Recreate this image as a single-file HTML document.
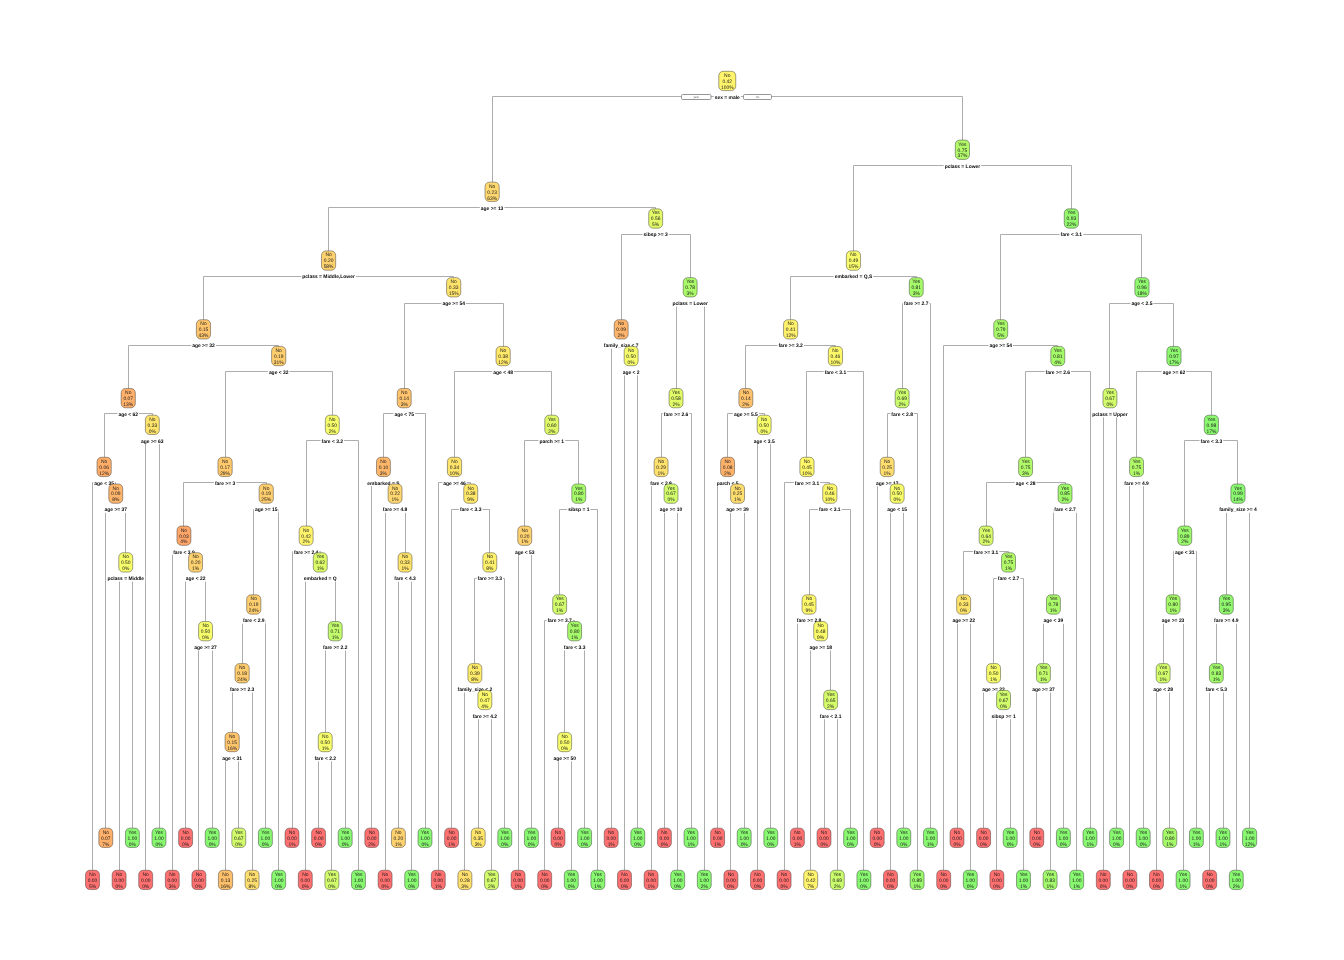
<!DOCTYPE html>
<html lang="en"><head><meta charset="utf-8"><title>Decision tree</title>
<style>html,body{margin:0;padding:0;background:#fff}body{width:1344px;height:960px;overflow:hidden}svg{display:block}text{text-rendering:geometricPrecision}</style>
</head><body>
<svg width="1344" height="960" viewBox="0 0 1344 960">
<rect width="1344" height="960" fill="#fff"/>
<path d="M119.5 870.25V578.5H132.5V828.15M105.5 828.15V509.5H125.5V552.76M92.5 870.25V482.5H115.5V483.98M145.5 870.25V440.5H159.5V828.15M104.5 457.27V413.5H152.5V415.2M198.5 870.25V647.5H212.5V828.15M185.5 828.15V578.5H205.5V621.54M172.5 870.25V551.5H195.5V552.76M225.5 870.25V757.5H238.5V828.15M232.5 732.39V689.5H252.5V870.25M242.5 663.61V620.5H265.5V828.15M253.5 594.83V509.5H278.5V870.25M183.5 526.05V482.5H266.5V483.98M318.5 828.15V757.5H331.5V870.25M325.5 732.39V647.5H345.5V828.15M305.5 870.25V578.5H335.5V621.54M292.5 828.15V551.5H320.5V552.76M306.5 526.05V440.5H358.5V870.25M225.5 457.27V371.5H332.5V415.2M128.5 388.49V345.5H278.5V346.42M398.5 828.15V578.5H411.5V870.25M385.5 870.25V509.5H405.5V552.76M371.5 828.15V482.5H395.5V483.98M383.5 457.27V413.5H425.5V828.15M478.5 828.15V715.5H491.5V870.25M464.5 870.25V689.5H484.5V690.32M474.5 663.61V578.5H504.5V828.15M451.5 828.15V509.5H489.5V552.76M438.5 870.25V482.5H470.5V483.98M518.5 870.25V551.5H531.5V828.15M558.5 828.15V757.5H571.5V870.25M564.5 732.39V647.5H584.5V828.15M544.5 870.25V620.5H574.5V621.54M559.5 594.83V509.5H597.5V870.25M524.5 526.05V440.5H578.5V483.98M454.5 457.27V371.5H551.5V415.2M404.5 388.49V303.5H503.5V346.42M203.5 319.71V276.5H453.5V277.64M624.5 870.25V371.5H637.5V828.15M611.5 828.15V345.5H631.5V346.42M664.5 828.15V509.5H677.5V870.25M651.5 870.25V482.5H671.5V483.98M661.5 457.27V413.5H691.5V828.15M676.5 388.49V303.5H704.5V870.25M621.5 319.71V234.5H690.5V277.64M328.5 250.93V207.5H655.5V208.86M730.5 870.25V509.5H744.5V828.15M717.5 828.15V482.5H737.5V483.98M757.5 870.25V440.5H770.5V828.15M727.5 457.27V413.5H764.5V415.2M824.5 828.15V715.5H837.5V870.25M810.5 870.25V647.5H830.5V690.32M797.5 828.15V620.5H820.5V621.54M809.5 594.83V509.5H850.5V828.15M784.5 870.25V482.5H829.5V483.98M806.5 457.27V371.5H863.5V870.25M745.5 388.49V345.5H835.5V346.42M890.5 870.25V509.5H903.5V828.15M877.5 828.15V482.5H897.5V483.98M887.5 457.27V413.5H917.5V870.25M902.5 388.49V303.5H930.5V828.15M790.5 319.71V276.5H916.5V277.64M957.5 828.15V620.5H970.5V870.25M996.5 870.25V715.5H1010.5V828.15M983.5 828.15V689.5H1003.5V690.32M993.5 663.61V578.5H1023.5V870.25M963.5 594.83V551.5H1008.5V552.76M1036.5 828.15V689.5H1050.5V870.25M1043.5 663.61V620.5H1063.5V828.15M1053.5 594.83V509.5H1076.5V870.25M986.5 526.05V482.5H1065.5V483.98M1025.5 457.27V371.5H1090.5V828.15M943.5 870.25V345.5H1057.5V346.42M1103.5 870.25V413.5H1116.5V828.15M1129.5 870.25V482.5H1143.5V828.15M1156.5 870.25V689.5H1169.5V828.15M1163.5 663.61V620.5H1183.5V870.25M1173.5 594.83V551.5H1196.5V828.15M1209.5 870.25V689.5H1223.5V828.15M1216.5 663.61V620.5H1236.5V870.25M1226.5 594.83V509.5H1249.5V828.15M1184.5 526.05V440.5H1237.5V483.98M1136.5 457.27V371.5H1211.5V415.2M1109.5 388.49V303.5H1173.5V346.42M1000.5 319.71V234.5H1141.5V277.64M853.5 250.93V165.5H1071.5V208.86M492.5 182.15V96.5H962.5V140.08" fill="none" stroke="#adadad" stroke-width="1"/>
<g font-family="Liberation Sans, Arial, sans-serif" font-weight="bold" font-size="4.95" text-anchor="middle" fill="#000">
<rect x="106.39" y="574.86" width="38.73" height="6.8" fill="#fff"/>
<text x="125.75" y="580.26">pclass = Middle</text>
<rect x="103.49" y="506.08" width="24.57" height="6.8" fill="#fff"/>
<text x="115.78" y="511.48">age &gt;= 37</text>
<rect x="93.3" y="479.37" width="21.68" height="6.8" fill="#fff"/>
<text x="104.14" y="484.77">age &lt; 35</text>
<rect x="140.07" y="437.3" width="24.57" height="6.8" fill="#fff"/>
<text x="152.35" y="442.7">age &gt;= 63</text>
<rect x="117.41" y="410.59" width="21.68" height="6.8" fill="#fff"/>
<text x="128.24" y="415.99">age &lt; 62</text>
<rect x="193.27" y="643.64" width="24.57" height="6.8" fill="#fff"/>
<text x="205.55" y="649.04">age &gt;= 27</text>
<rect x="184.74" y="574.86" width="21.68" height="6.8" fill="#fff"/>
<text x="195.58" y="580.26">age &lt; 22</text>
<rect x="172.14" y="548.15" width="23.6" height="6.8" fill="#fff"/>
<text x="183.94" y="553.55">fare &lt; 3.9</text>
<rect x="221.31" y="754.49" width="21.68" height="6.8" fill="#fff"/>
<text x="232.15" y="759.89">age &lt; 31</text>
<rect x="228.88" y="685.71" width="26.49" height="6.8" fill="#fff"/>
<text x="242.12" y="691.11">fare &gt;= 2.3</text>
<rect x="241.96" y="616.93" width="23.6" height="6.8" fill="#fff"/>
<text x="253.76" y="622.33">fare &lt; 2.9</text>
<rect x="253.95" y="506.08" width="24.57" height="6.8" fill="#fff"/>
<text x="266.23" y="511.48">age &gt;= 15</text>
<rect x="213.9" y="479.37" width="22.36" height="6.8" fill="#fff"/>
<text x="225.08" y="484.77">fare &gt;= 3</text>
<rect x="313.45" y="754.49" width="23.6" height="6.8" fill="#fff"/>
<text x="325.25" y="759.89">fare &lt; 2.2</text>
<rect x="321.98" y="643.64" width="26.49" height="6.8" fill="#fff"/>
<text x="335.23" y="649.04">fare &gt;= 2.2</text>
<rect x="302.82" y="574.86" width="34.88" height="6.8" fill="#fff"/>
<text x="320.26" y="580.26">embarked = Q</text>
<rect x="292.88" y="548.15" width="26.49" height="6.8" fill="#fff"/>
<text x="306.13" y="553.55">fare &gt;= 2.4</text>
<rect x="320.51" y="437.3" width="23.6" height="6.8" fill="#fff"/>
<text x="332.32" y="442.7">fare &lt; 3.2</text>
<rect x="267.86" y="368.52" width="21.68" height="6.8" fill="#fff"/>
<text x="278.7" y="373.92">age &lt; 32</text>
<rect x="191.19" y="341.81" width="24.57" height="6.8" fill="#fff"/>
<text x="203.47" y="347.21">age &gt;= 32</text>
<rect x="393.25" y="574.86" width="23.6" height="6.8" fill="#fff"/>
<text x="405.05" y="580.26">fare &lt; 4.3</text>
<rect x="381.83" y="506.08" width="26.49" height="6.8" fill="#fff"/>
<text x="395.08" y="511.48">fare &gt;= 4.8</text>
<rect x="366.27" y="479.37" width="34.33" height="6.8" fill="#fff"/>
<text x="383.44" y="484.77">embarked = S</text>
<rect x="393.38" y="410.59" width="21.68" height="6.8" fill="#fff"/>
<text x="404.22" y="415.99">age &lt; 75</text>
<rect x="471.6" y="712.42" width="26.49" height="6.8" fill="#fff"/>
<text x="484.85" y="717.82">fare &gt;= 4.2</text>
<rect x="456.47" y="685.71" width="36.81" height="6.8" fill="#fff"/>
<text x="474.88" y="691.11">family_size &lt; 2</text>
<rect x="476.59" y="574.86" width="26.49" height="6.8" fill="#fff"/>
<text x="489.84" y="580.26">fare &gt;= 3.3</text>
<rect x="458.92" y="506.08" width="23.6" height="6.8" fill="#fff"/>
<text x="470.72" y="511.48">fare &lt; 3.3</text>
<rect x="442.23" y="479.37" width="24.57" height="6.8" fill="#fff"/>
<text x="454.51" y="484.77">age &gt;= 46</text>
<rect x="513.91" y="548.15" width="21.68" height="6.8" fill="#fff"/>
<text x="524.75" y="553.55">age &lt; 53</text>
<rect x="552.37" y="754.49" width="24.57" height="6.8" fill="#fff"/>
<text x="564.65" y="759.89">age &gt;= 50</text>
<rect x="562.82" y="643.64" width="23.6" height="6.8" fill="#fff"/>
<text x="574.62" y="649.04">fare &lt; 3.3</text>
<rect x="546.42" y="616.93" width="26.49" height="6.8" fill="#fff"/>
<text x="559.66" y="622.33">fare &gt;= 3.7</text>
<rect x="567.12" y="506.08" width="23.32" height="6.8" fill="#fff"/>
<text x="578.78" y="511.48">sibsp = 1</text>
<rect x="538.38" y="437.3" width="26.76" height="6.8" fill="#fff"/>
<text x="551.77" y="442.7">parch &gt;= 1</text>
<rect x="492.3" y="368.52" width="21.68" height="6.8" fill="#fff"/>
<text x="503.14" y="373.92">age &lt; 48</text>
<rect x="441.39" y="299.74" width="24.57" height="6.8" fill="#fff"/>
<text x="453.68" y="305.14">age &gt;= 54</text>
<rect x="301.23" y="273.03" width="54.68" height="6.8" fill="#fff"/>
<text x="328.58" y="278.43">pclass = Middle,Lower</text>
<rect x="621.69" y="368.52" width="18.92" height="6.8" fill="#fff"/>
<text x="631.15" y="373.92">age &lt; 2</text>
<rect x="602.77" y="341.81" width="36.81" height="6.8" fill="#fff"/>
<text x="621.18" y="347.21">family_size &lt; 7</text>
<rect x="658.77" y="506.08" width="24.57" height="6.8" fill="#fff"/>
<text x="671.05" y="511.48">age &gt;= 10</text>
<rect x="649.27" y="479.37" width="23.6" height="6.8" fill="#fff"/>
<text x="661.08" y="484.77">fare &lt; 2.8</text>
<rect x="662.79" y="410.59" width="26.49" height="6.8" fill="#fff"/>
<text x="676.04" y="415.99">fare &gt;= 2.6</text>
<rect x="671.35" y="299.74" width="37.63" height="6.8" fill="#fff"/>
<text x="690.17" y="305.14">pclass = Lower</text>
<rect x="642.56" y="230.96" width="26.22" height="6.8" fill="#fff"/>
<text x="655.67" y="236.36">sibsp &gt;= 3</text>
<rect x="479.84" y="204.25" width="24.57" height="6.8" fill="#fff"/>
<text x="492.12" y="209.65">age &gt;= 13</text>
<rect x="725.27" y="506.08" width="24.57" height="6.8" fill="#fff"/>
<text x="737.55" y="511.48">age &gt;= 39</text>
<rect x="715.64" y="479.37" width="23.87" height="6.8" fill="#fff"/>
<text x="727.58" y="484.77">parch &lt; 5</text>
<rect x="752.62" y="437.3" width="23.05" height="6.8" fill="#fff"/>
<text x="764.15" y="442.7">age &lt; 3.5</text>
<rect x="732.89" y="410.59" width="25.94" height="6.8" fill="#fff"/>
<text x="745.86" y="415.99">age &gt;= 5.5</text>
<rect x="818.85" y="712.42" width="23.6" height="6.8" fill="#fff"/>
<text x="830.65" y="717.82">fare &lt; 2.1</text>
<rect x="808.39" y="643.64" width="24.57" height="6.8" fill="#fff"/>
<text x="820.68" y="649.04">age &gt;= 18</text>
<rect x="795.79" y="616.93" width="26.49" height="6.8" fill="#fff"/>
<text x="809.04" y="622.33">fare &gt;= 2.8</text>
<rect x="818.02" y="506.08" width="23.6" height="6.8" fill="#fff"/>
<text x="829.82" y="511.48">fare &lt; 3.1</text>
<rect x="793.71" y="479.37" width="26.49" height="6.8" fill="#fff"/>
<text x="806.96" y="484.77">fare &gt;= 3.1</text>
<rect x="823.63" y="368.52" width="23.6" height="6.8" fill="#fff"/>
<text x="835.43" y="373.92">fare &lt; 3.1</text>
<rect x="777.4" y="341.81" width="26.49" height="6.8" fill="#fff"/>
<text x="790.65" y="347.21">fare &gt;= 3.2</text>
<rect x="886.31" y="506.08" width="21.68" height="6.8" fill="#fff"/>
<text x="897.15" y="511.48">age &lt; 15</text>
<rect x="874.89" y="479.37" width="24.57" height="6.8" fill="#fff"/>
<text x="887.18" y="484.77">age &gt;= 17</text>
<rect x="890.34" y="410.59" width="23.6" height="6.8" fill="#fff"/>
<text x="902.14" y="415.99">fare &lt; 2.8</text>
<rect x="903.02" y="299.74" width="26.49" height="6.8" fill="#fff"/>
<text x="916.27" y="305.14">fare &gt;= 2.7</text>
<rect x="833.68" y="273.03" width="39.56" height="6.8" fill="#fff"/>
<text x="853.46" y="278.43">embarked = Q,S</text>
<rect x="951.37" y="616.93" width="24.57" height="6.8" fill="#fff"/>
<text x="963.65" y="622.33">age &gt;= 22</text>
<rect x="990.44" y="712.42" width="26.22" height="6.8" fill="#fff"/>
<text x="1003.55" y="717.82">sibsp &gt;= 1</text>
<rect x="981.29" y="685.71" width="24.57" height="6.8" fill="#fff"/>
<text x="993.58" y="691.11">age &gt;= 22</text>
<rect x="996.74" y="574.86" width="23.6" height="6.8" fill="#fff"/>
<text x="1008.54" y="580.26">fare &lt; 2.7</text>
<rect x="972.85" y="548.15" width="26.49" height="6.8" fill="#fff"/>
<text x="986.09" y="553.55">fare &gt;= 3.1</text>
<rect x="1031.17" y="685.71" width="24.57" height="6.8" fill="#fff"/>
<text x="1043.45" y="691.11">age &gt;= 37</text>
<rect x="1042.59" y="616.93" width="21.68" height="6.8" fill="#fff"/>
<text x="1053.43" y="622.33">age &lt; 39</text>
<rect x="1053.26" y="506.08" width="23.6" height="6.8" fill="#fff"/>
<text x="1065.06" y="511.48">fare &lt; 2.7</text>
<rect x="1014.74" y="479.37" width="21.68" height="6.8" fill="#fff"/>
<text x="1025.58" y="484.77">age &lt; 28</text>
<rect x="1044.54" y="368.52" width="26.49" height="6.8" fill="#fff"/>
<text x="1057.79" y="373.92">fare &gt;= 2.6</text>
<rect x="988.46" y="341.81" width="24.57" height="6.8" fill="#fff"/>
<text x="1000.74" y="347.21">age &gt;= 54</text>
<rect x="1091.27" y="410.59" width="37.35" height="6.8" fill="#fff"/>
<text x="1109.95" y="415.99">pclass = Upper</text>
<rect x="1123.3" y="479.37" width="26.49" height="6.8" fill="#fff"/>
<text x="1136.55" y="484.77">fare &gt;= 4.9</text>
<rect x="1152.31" y="685.71" width="21.68" height="6.8" fill="#fff"/>
<text x="1163.15" y="691.11">age &lt; 28</text>
<rect x="1160.84" y="616.93" width="24.57" height="6.8" fill="#fff"/>
<text x="1173.12" y="622.33">age &gt;= 23</text>
<rect x="1173.92" y="548.15" width="21.68" height="6.8" fill="#fff"/>
<text x="1184.76" y="553.55">age &lt; 31</text>
<rect x="1204.55" y="685.71" width="23.6" height="6.8" fill="#fff"/>
<text x="1216.35" y="691.11">fare &lt; 5.3</text>
<rect x="1213.08" y="616.93" width="26.49" height="6.8" fill="#fff"/>
<text x="1226.32" y="622.33">fare &gt;= 4.9</text>
<rect x="1218.11" y="506.08" width="39.7" height="6.8" fill="#fff"/>
<text x="1237.96" y="511.48">family_size &gt;= 4</text>
<rect x="1199.56" y="437.3" width="23.6" height="6.8" fill="#fff"/>
<text x="1211.36" y="442.7">fare &lt; 3.3</text>
<rect x="1161.67" y="368.52" width="24.57" height="6.8" fill="#fff"/>
<text x="1173.96" y="373.92">age &gt;= 62</text>
<rect x="1130.43" y="299.74" width="23.05" height="6.8" fill="#fff"/>
<text x="1141.95" y="305.14">age &lt; 2.5</text>
<rect x="1059.55" y="230.96" width="23.6" height="6.8" fill="#fff"/>
<text x="1071.35" y="236.36">fare &lt; 3.1</text>
<rect x="943.59" y="162.18" width="37.63" height="6.8" fill="#fff"/>
<text x="962.4" y="167.58">pclass = Lower</text>
<rect x="713.67" y="93.4" width="27.18" height="6.8" fill="#fff"/>
<text x="727.26" y="98.8">sex = male</text>
</g>
<g font-family="Liberation Sans, Arial, sans-serif" font-size="3.3" text-anchor="middle" fill="#666">
<rect x="681.5" y="94.5" width="29.5" height="5" rx="1.2" fill="#fff" stroke="#969696" stroke-width="1"/><text x="696" y="98.1">yes</text>
<rect x="743.5" y="94.5" width="28" height="5" rx="1.2" fill="#fff" stroke="#969696" stroke-width="1"/><text x="757.5" y="98.1">no</text>
</g>
<g font-family="Liberation Sans, Arial, sans-serif" font-size="4.95" text-anchor="middle" fill="#1a1a1a" stroke="none">
<g stroke="#2a2a2a" stroke-opacity="0.55" stroke-width="0.8">
<rect x="85.53" y="870.25" width="13.93" height="19.3" rx="4.4" fill="#ff7070"/>
<rect x="98.83" y="828.15" width="13.93" height="19.3" rx="4.4" fill="#ffb06a"/>
<rect x="112.13" y="870.25" width="13.93" height="19.3" rx="4.4" fill="#ff7070"/>
<rect x="125.43" y="828.15" width="13.93" height="19.3" rx="4.4" fill="#88f870"/>
<rect x="118.78" y="552.76" width="13.93" height="19.3" rx="4.4" fill="#f6fc6a"/>
<rect x="108.81" y="483.98" width="13.93" height="19.3" rx="4.4" fill="#ffb56b"/>
<rect x="97.04" y="457.27" width="14.2" height="19.3" rx="4.4" fill="#ffae6a"/>
<rect x="138.73" y="870.25" width="13.93" height="19.3" rx="4.4" fill="#ff7070"/>
<rect x="152.03" y="828.15" width="13.93" height="19.3" rx="4.4" fill="#88f870"/>
<rect x="145.38" y="415.2" width="13.93" height="19.3" rx="4.4" fill="#ffe46c"/>
<rect x="121.14" y="388.49" width="14.2" height="19.3" rx="4.4" fill="#ffb06a"/>
<rect x="165.33" y="870.25" width="13.93" height="19.3" rx="4.4" fill="#ff7070"/>
<rect x="178.63" y="828.15" width="13.93" height="19.3" rx="4.4" fill="#ff7070"/>
<rect x="191.93" y="870.25" width="13.93" height="19.3" rx="4.4" fill="#ff7070"/>
<rect x="205.23" y="828.15" width="13.93" height="19.3" rx="4.4" fill="#88f870"/>
<rect x="198.58" y="621.54" width="13.93" height="19.3" rx="4.4" fill="#f6fc6a"/>
<rect x="188.61" y="552.76" width="13.93" height="19.3" rx="4.4" fill="#ffd270"/>
<rect x="176.97" y="526.05" width="13.93" height="19.3" rx="4.4" fill="#ffa66a"/>
<rect x="218.4" y="870.25" width="14.2" height="19.3" rx="4.4" fill="#ffc06c"/>
<rect x="231.83" y="828.15" width="13.93" height="19.3" rx="4.4" fill="#d2fc6c"/>
<rect x="225.05" y="732.39" width="14.2" height="19.3" rx="4.4" fill="#ffc56d"/>
<rect x="245.13" y="870.25" width="13.93" height="19.3" rx="4.4" fill="#ffde70"/>
<rect x="235.02" y="663.61" width="14.2" height="19.3" rx="4.4" fill="#ffcd6f"/>
<rect x="258.43" y="828.15" width="13.93" height="19.3" rx="4.4" fill="#88f870"/>
<rect x="246.66" y="594.83" width="14.2" height="19.3" rx="4.4" fill="#ffcf6f"/>
<rect x="271.73" y="870.25" width="13.93" height="19.3" rx="4.4" fill="#88f870"/>
<rect x="259.13" y="483.98" width="14.2" height="19.3" rx="4.4" fill="#ffcf6f"/>
<rect x="217.98" y="457.27" width="14.2" height="19.3" rx="4.4" fill="#ffca6e"/>
<rect x="285.03" y="828.15" width="13.93" height="19.3" rx="4.4" fill="#ff7070"/>
<rect x="298.33" y="870.25" width="13.93" height="19.3" rx="4.4" fill="#ff7070"/>
<rect x="311.63" y="828.15" width="13.93" height="19.3" rx="4.4" fill="#ff7070"/>
<rect x="324.93" y="870.25" width="13.93" height="19.3" rx="4.4" fill="#d2fc6c"/>
<rect x="318.28" y="732.39" width="13.93" height="19.3" rx="4.4" fill="#f6fc6a"/>
<rect x="338.23" y="828.15" width="13.93" height="19.3" rx="4.4" fill="#88f870"/>
<rect x="328.26" y="621.54" width="13.93" height="19.3" rx="4.4" fill="#c2fb6b"/>
<rect x="313.3" y="552.76" width="13.93" height="19.3" rx="4.4" fill="#dbfb69"/>
<rect x="299.16" y="526.05" width="13.93" height="19.3" rx="4.4" fill="#fff46c"/>
<rect x="351.53" y="870.25" width="13.93" height="19.3" rx="4.4" fill="#88f870"/>
<rect x="325.35" y="415.2" width="13.93" height="19.3" rx="4.4" fill="#f6fc6a"/>
<rect x="271.6" y="346.42" width="14.2" height="19.3" rx="4.4" fill="#ffcf6f"/>
<rect x="196.37" y="319.71" width="14.2" height="19.3" rx="4.4" fill="#ffc56d"/>
<rect x="364.83" y="828.15" width="13.93" height="19.3" rx="4.4" fill="#ff7070"/>
<rect x="378.13" y="870.25" width="13.93" height="19.3" rx="4.4" fill="#ff7070"/>
<rect x="391.43" y="828.15" width="13.93" height="19.3" rx="4.4" fill="#ffd270"/>
<rect x="404.73" y="870.25" width="13.93" height="19.3" rx="4.4" fill="#88f870"/>
<rect x="398.08" y="552.76" width="13.93" height="19.3" rx="4.4" fill="#ffe46c"/>
<rect x="388.11" y="483.98" width="13.93" height="19.3" rx="4.4" fill="#ffd770"/>
<rect x="376.47" y="457.27" width="13.93" height="19.3" rx="4.4" fill="#ffb86b"/>
<rect x="418.03" y="828.15" width="13.93" height="19.3" rx="4.4" fill="#88f870"/>
<rect x="397.25" y="388.49" width="13.93" height="19.3" rx="4.4" fill="#ffc36d"/>
<rect x="431.33" y="870.25" width="13.93" height="19.3" rx="4.4" fill="#ff7070"/>
<rect x="444.63" y="828.15" width="13.93" height="19.3" rx="4.4" fill="#ff7070"/>
<rect x="457.93" y="870.25" width="13.93" height="19.3" rx="4.4" fill="#ffe06e"/>
<rect x="471.23" y="828.15" width="13.93" height="19.3" rx="4.4" fill="#ffe66b"/>
<rect x="484.53" y="870.25" width="13.93" height="19.3" rx="4.4" fill="#d2fc6c"/>
<rect x="477.88" y="690.32" width="13.93" height="19.3" rx="4.4" fill="#fbf96a"/>
<rect x="467.91" y="663.61" width="13.93" height="19.3" rx="4.4" fill="#ffeb6a"/>
<rect x="497.83" y="828.15" width="13.93" height="19.3" rx="4.4" fill="#88f870"/>
<rect x="482.87" y="552.76" width="13.93" height="19.3" rx="4.4" fill="#fff16c"/>
<rect x="463.75" y="483.98" width="13.93" height="19.3" rx="4.4" fill="#ffe86a"/>
<rect x="447.41" y="457.27" width="14.2" height="19.3" rx="4.4" fill="#ffe56c"/>
<rect x="511.13" y="870.25" width="13.93" height="19.3" rx="4.4" fill="#ff7070"/>
<rect x="524.43" y="828.15" width="13.93" height="19.3" rx="4.4" fill="#88f870"/>
<rect x="517.78" y="526.05" width="13.93" height="19.3" rx="4.4" fill="#ffd270"/>
<rect x="537.73" y="870.25" width="13.93" height="19.3" rx="4.4" fill="#ff7070"/>
<rect x="551.03" y="828.15" width="13.93" height="19.3" rx="4.4" fill="#ff7070"/>
<rect x="564.33" y="870.25" width="13.93" height="19.3" rx="4.4" fill="#88f870"/>
<rect x="557.68" y="732.39" width="13.93" height="19.3" rx="4.4" fill="#f6fc6a"/>
<rect x="577.63" y="828.15" width="13.93" height="19.3" rx="4.4" fill="#88f870"/>
<rect x="567.66" y="621.54" width="13.93" height="19.3" rx="4.4" fill="#a6fa6a"/>
<rect x="552.7" y="594.83" width="13.93" height="19.3" rx="4.4" fill="#d2fc6c"/>
<rect x="590.93" y="870.25" width="13.93" height="19.3" rx="4.4" fill="#88f870"/>
<rect x="571.81" y="483.98" width="13.93" height="19.3" rx="4.4" fill="#a6fa6a"/>
<rect x="544.8" y="415.2" width="13.93" height="19.3" rx="4.4" fill="#defa68"/>
<rect x="496.04" y="346.42" width="14.2" height="19.3" rx="4.4" fill="#ffe86a"/>
<rect x="446.58" y="277.64" width="14.2" height="19.3" rx="4.4" fill="#ffe46c"/>
<rect x="321.47" y="250.93" width="14.2" height="19.3" rx="4.4" fill="#ffd270"/>
<rect x="604.23" y="828.15" width="13.93" height="19.3" rx="4.4" fill="#ff7070"/>
<rect x="617.53" y="870.25" width="13.93" height="19.3" rx="4.4" fill="#ff7070"/>
<rect x="630.83" y="828.15" width="13.93" height="19.3" rx="4.4" fill="#88f870"/>
<rect x="624.18" y="346.42" width="13.93" height="19.3" rx="4.4" fill="#f6fc6a"/>
<rect x="614.21" y="319.71" width="13.93" height="19.3" rx="4.4" fill="#ffb56b"/>
<rect x="644.13" y="870.25" width="13.93" height="19.3" rx="4.4" fill="#ff7070"/>
<rect x="657.43" y="828.15" width="13.93" height="19.3" rx="4.4" fill="#ff7070"/>
<rect x="670.73" y="870.25" width="13.93" height="19.3" rx="4.4" fill="#88f870"/>
<rect x="664.08" y="483.98" width="13.93" height="19.3" rx="4.4" fill="#d2fc6c"/>
<rect x="654.11" y="457.27" width="13.93" height="19.3" rx="4.4" fill="#ffe16e"/>
<rect x="684.03" y="828.15" width="13.93" height="19.3" rx="4.4" fill="#88f870"/>
<rect x="669.07" y="388.49" width="13.93" height="19.3" rx="4.4" fill="#e1fa68"/>
<rect x="697.33" y="870.25" width="13.93" height="19.3" rx="4.4" fill="#88f870"/>
<rect x="683.2" y="277.64" width="13.93" height="19.3" rx="4.4" fill="#abfa6a"/>
<rect x="648.71" y="208.86" width="13.93" height="19.3" rx="4.4" fill="#e4fa68"/>
<rect x="485.02" y="182.15" width="14.2" height="19.3" rx="4.4" fill="#ffd970"/>
<rect x="710.63" y="828.15" width="13.93" height="19.3" rx="4.4" fill="#ff7070"/>
<rect x="723.93" y="870.25" width="13.93" height="19.3" rx="4.4" fill="#ff7070"/>
<rect x="737.23" y="828.15" width="13.93" height="19.3" rx="4.4" fill="#88f870"/>
<rect x="730.58" y="483.98" width="13.93" height="19.3" rx="4.4" fill="#ffde70"/>
<rect x="720.61" y="457.27" width="13.93" height="19.3" rx="4.4" fill="#ffb36a"/>
<rect x="750.53" y="870.25" width="13.93" height="19.3" rx="4.4" fill="#ff7070"/>
<rect x="763.83" y="828.15" width="13.93" height="19.3" rx="4.4" fill="#88f870"/>
<rect x="757.18" y="415.2" width="13.93" height="19.3" rx="4.4" fill="#f6fc6a"/>
<rect x="738.9" y="388.49" width="13.93" height="19.3" rx="4.4" fill="#ffc36d"/>
<rect x="777.13" y="870.25" width="13.93" height="19.3" rx="4.4" fill="#ff7070"/>
<rect x="790.43" y="828.15" width="13.93" height="19.3" rx="4.4" fill="#ff7070"/>
<rect x="803.73" y="870.25" width="13.93" height="19.3" rx="4.4" fill="#fff46c"/>
<rect x="817.03" y="828.15" width="13.93" height="19.3" rx="4.4" fill="#ff7070"/>
<rect x="830.33" y="870.25" width="13.93" height="19.3" rx="4.4" fill="#cafc6c"/>
<rect x="823.68" y="690.32" width="13.93" height="19.3" rx="4.4" fill="#d5fb6b"/>
<rect x="813.71" y="621.54" width="13.93" height="19.3" rx="4.4" fill="#fafa6a"/>
<rect x="802.07" y="594.83" width="13.93" height="19.3" rx="4.4" fill="#fef76a"/>
<rect x="843.63" y="828.15" width="13.93" height="19.3" rx="4.4" fill="#88f870"/>
<rect x="822.72" y="483.98" width="14.2" height="19.3" rx="4.4" fill="#fdf86a"/>
<rect x="799.86" y="457.27" width="14.2" height="19.3" rx="4.4" fill="#fef76a"/>
<rect x="856.93" y="870.25" width="13.93" height="19.3" rx="4.4" fill="#88f870"/>
<rect x="828.33" y="346.42" width="14.2" height="19.3" rx="4.4" fill="#fdf86a"/>
<rect x="783.54" y="319.71" width="14.2" height="19.3" rx="4.4" fill="#fff16c"/>
<rect x="870.23" y="828.15" width="13.93" height="19.3" rx="4.4" fill="#ff7070"/>
<rect x="883.53" y="870.25" width="13.93" height="19.3" rx="4.4" fill="#ff7070"/>
<rect x="896.83" y="828.15" width="13.93" height="19.3" rx="4.4" fill="#88f870"/>
<rect x="890.18" y="483.98" width="13.93" height="19.3" rx="4.4" fill="#f6fc6a"/>
<rect x="880.21" y="457.27" width="13.93" height="19.3" rx="4.4" fill="#ffde70"/>
<rect x="910.13" y="870.25" width="13.93" height="19.3" rx="4.4" fill="#9af86c"/>
<rect x="895.17" y="388.49" width="13.93" height="19.3" rx="4.4" fill="#cafc6c"/>
<rect x="923.43" y="828.15" width="13.93" height="19.3" rx="4.4" fill="#88f870"/>
<rect x="909.3" y="277.64" width="13.93" height="19.3" rx="4.4" fill="#a5fa6a"/>
<rect x="846.35" y="250.93" width="14.2" height="19.3" rx="4.4" fill="#f8fb6a"/>
<rect x="936.73" y="870.25" width="13.93" height="19.3" rx="4.4" fill="#ff7070"/>
<rect x="950.03" y="828.15" width="13.93" height="19.3" rx="4.4" fill="#ff7070"/>
<rect x="963.33" y="870.25" width="13.93" height="19.3" rx="4.4" fill="#88f870"/>
<rect x="956.68" y="594.83" width="13.93" height="19.3" rx="4.4" fill="#ffe46c"/>
<rect x="976.63" y="828.15" width="13.93" height="19.3" rx="4.4" fill="#ff7070"/>
<rect x="989.93" y="870.25" width="13.93" height="19.3" rx="4.4" fill="#ff7070"/>
<rect x="1003.23" y="828.15" width="13.93" height="19.3" rx="4.4" fill="#88f870"/>
<rect x="996.58" y="690.32" width="13.93" height="19.3" rx="4.4" fill="#d2fc6c"/>
<rect x="986.61" y="663.61" width="13.93" height="19.3" rx="4.4" fill="#f6fc6a"/>
<rect x="1016.53" y="870.25" width="13.93" height="19.3" rx="4.4" fill="#88f870"/>
<rect x="1001.57" y="552.76" width="13.93" height="19.3" rx="4.4" fill="#b2fa6a"/>
<rect x="979.13" y="526.05" width="13.93" height="19.3" rx="4.4" fill="#d7fb6a"/>
<rect x="1029.83" y="828.15" width="13.93" height="19.3" rx="4.4" fill="#ff7070"/>
<rect x="1043.13" y="870.25" width="13.93" height="19.3" rx="4.4" fill="#a2f96b"/>
<rect x="1036.48" y="663.61" width="13.93" height="19.3" rx="4.4" fill="#c2fb6b"/>
<rect x="1056.43" y="828.15" width="13.93" height="19.3" rx="4.4" fill="#88f870"/>
<rect x="1046.46" y="594.83" width="13.93" height="19.3" rx="4.4" fill="#abfa6a"/>
<rect x="1069.73" y="870.25" width="13.93" height="19.3" rx="4.4" fill="#88f870"/>
<rect x="1058.1" y="483.98" width="13.93" height="19.3" rx="4.4" fill="#9ff96b"/>
<rect x="1018.61" y="457.27" width="13.93" height="19.3" rx="4.4" fill="#b2fa6a"/>
<rect x="1083.03" y="828.15" width="13.93" height="19.3" rx="4.4" fill="#88f870"/>
<rect x="1050.82" y="346.42" width="13.93" height="19.3" rx="4.4" fill="#a5fa6a"/>
<rect x="993.78" y="319.71" width="13.93" height="19.3" rx="4.4" fill="#a8fa6a"/>
<rect x="1096.33" y="870.25" width="13.93" height="19.3" rx="4.4" fill="#ff7070"/>
<rect x="1109.63" y="828.15" width="13.93" height="19.3" rx="4.4" fill="#88f870"/>
<rect x="1102.98" y="388.49" width="13.93" height="19.3" rx="4.4" fill="#d2fc6c"/>
<rect x="1122.93" y="870.25" width="13.93" height="19.3" rx="4.4" fill="#ff7070"/>
<rect x="1136.23" y="828.15" width="13.93" height="19.3" rx="4.4" fill="#88f870"/>
<rect x="1129.58" y="457.27" width="13.93" height="19.3" rx="4.4" fill="#b2fa6a"/>
<rect x="1149.53" y="870.25" width="13.93" height="19.3" rx="4.4" fill="#ff7070"/>
<rect x="1162.83" y="828.15" width="13.93" height="19.3" rx="4.4" fill="#a6fa6a"/>
<rect x="1156.18" y="663.61" width="13.93" height="19.3" rx="4.4" fill="#d2fc6c"/>
<rect x="1176.13" y="870.25" width="13.93" height="19.3" rx="4.4" fill="#88f870"/>
<rect x="1166.16" y="594.83" width="13.93" height="19.3" rx="4.4" fill="#a6fa6a"/>
<rect x="1189.43" y="828.15" width="13.93" height="19.3" rx="4.4" fill="#88f870"/>
<rect x="1177.8" y="526.05" width="13.93" height="19.3" rx="4.4" fill="#9af86c"/>
<rect x="1202.73" y="870.25" width="13.93" height="19.3" rx="4.4" fill="#ff7070"/>
<rect x="1216.03" y="828.15" width="13.93" height="19.3" rx="4.4" fill="#88f870"/>
<rect x="1209.38" y="663.61" width="13.93" height="19.3" rx="4.4" fill="#a2f96b"/>
<rect x="1229.33" y="870.25" width="13.93" height="19.3" rx="4.4" fill="#88f870"/>
<rect x="1219.36" y="594.83" width="13.93" height="19.3" rx="4.4" fill="#90f86e"/>
<rect x="1242.5" y="828.15" width="14.2" height="19.3" rx="4.4" fill="#88f870"/>
<rect x="1230.86" y="483.98" width="14.2" height="19.3" rx="4.4" fill="#8af870"/>
<rect x="1204.26" y="415.2" width="14.2" height="19.3" rx="4.4" fill="#8bf86f"/>
<rect x="1166.85" y="346.42" width="14.2" height="19.3" rx="4.4" fill="#8df86f"/>
<rect x="1134.85" y="277.64" width="14.2" height="19.3" rx="4.4" fill="#8ff86f"/>
<rect x="1064.25" y="208.86" width="14.2" height="19.3" rx="4.4" fill="#93f86d"/>
<rect x="955.3" y="140.08" width="14.2" height="19.3" rx="4.4" fill="#b2fa6a"/>
<rect x="718.78" y="71.3" width="16.96" height="19.3" rx="4.4" fill="#fff46c"/>
</g>
<text x="92.5" y="875.8">No</text><text x="92.5" y="881.7">0.00</text><text x="92.5" y="887.6">5%</text>
<text x="105.8" y="833.7">No</text><text x="105.8" y="839.6">0.07</text><text x="105.8" y="845.5">7%</text>
<text x="119.1" y="875.8">No</text><text x="119.1" y="881.7">0.00</text><text x="119.1" y="887.6">0%</text>
<text x="132.4" y="833.7">Yes</text><text x="132.4" y="839.6">1.00</text><text x="132.4" y="845.5">0%</text>
<text x="125.75" y="558.31">No</text><text x="125.75" y="564.21">0.50</text><text x="125.75" y="570.11">0%</text>
<text x="115.78" y="489.53">No</text><text x="115.78" y="495.43">0.09</text><text x="115.78" y="501.33">8%</text>
<text x="104.14" y="462.82">No</text><text x="104.14" y="468.72">0.06</text><text x="104.14" y="474.62">12%</text>
<text x="145.7" y="875.8">No</text><text x="145.7" y="881.7">0.00</text><text x="145.7" y="887.6">0%</text>
<text x="159" y="833.7">Yes</text><text x="159" y="839.6">1.00</text><text x="159" y="845.5">0%</text>
<text x="152.35" y="420.75">No</text><text x="152.35" y="426.65">0.33</text><text x="152.35" y="432.55">0%</text>
<text x="128.24" y="394.04">No</text><text x="128.24" y="399.94">0.07</text><text x="128.24" y="405.84">13%</text>
<text x="172.3" y="875.8">No</text><text x="172.3" y="881.7">0.00</text><text x="172.3" y="887.6">3%</text>
<text x="185.6" y="833.7">No</text><text x="185.6" y="839.6">0.00</text><text x="185.6" y="845.5">0%</text>
<text x="198.9" y="875.8">No</text><text x="198.9" y="881.7">0.00</text><text x="198.9" y="887.6">0%</text>
<text x="212.2" y="833.7">Yes</text><text x="212.2" y="839.6">1.00</text><text x="212.2" y="845.5">0%</text>
<text x="205.55" y="627.09">No</text><text x="205.55" y="632.99">0.50</text><text x="205.55" y="638.89">0%</text>
<text x="195.58" y="558.31">No</text><text x="195.58" y="564.21">0.20</text><text x="195.58" y="570.11">1%</text>
<text x="183.94" y="531.6">No</text><text x="183.94" y="537.5">0.03</text><text x="183.94" y="543.4">4%</text>
<text x="225.5" y="875.8">No</text><text x="225.5" y="881.7">0.13</text><text x="225.5" y="887.6">16%</text>
<text x="238.8" y="833.7">Yes</text><text x="238.8" y="839.6">0.67</text><text x="238.8" y="845.5">0%</text>
<text x="232.15" y="737.94">No</text><text x="232.15" y="743.84">0.15</text><text x="232.15" y="749.74">16%</text>
<text x="252.1" y="875.8">No</text><text x="252.1" y="881.7">0.25</text><text x="252.1" y="887.6">8%</text>
<text x="242.12" y="669.16">No</text><text x="242.12" y="675.06">0.18</text><text x="242.12" y="680.96">24%</text>
<text x="265.4" y="833.7">Yes</text><text x="265.4" y="839.6">1.00</text><text x="265.4" y="845.5">0%</text>
<text x="253.76" y="600.38">No</text><text x="253.76" y="606.28">0.19</text><text x="253.76" y="612.18">24%</text>
<text x="278.7" y="875.8">Yes</text><text x="278.7" y="881.7">1.00</text><text x="278.7" y="887.6">0%</text>
<text x="266.23" y="489.53">No</text><text x="266.23" y="495.43">0.19</text><text x="266.23" y="501.33">25%</text>
<text x="225.08" y="462.82">No</text><text x="225.08" y="468.72">0.17</text><text x="225.08" y="474.62">29%</text>
<text x="292" y="833.7">No</text><text x="292" y="839.6">0.00</text><text x="292" y="845.5">1%</text>
<text x="305.3" y="875.8">No</text><text x="305.3" y="881.7">0.00</text><text x="305.3" y="887.6">0%</text>
<text x="318.6" y="833.7">No</text><text x="318.6" y="839.6">0.00</text><text x="318.6" y="845.5">0%</text>
<text x="331.9" y="875.8">Yes</text><text x="331.9" y="881.7">0.67</text><text x="331.9" y="887.6">0%</text>
<text x="325.25" y="737.94">No</text><text x="325.25" y="743.84">0.50</text><text x="325.25" y="749.74">1%</text>
<text x="345.2" y="833.7">Yes</text><text x="345.2" y="839.6">1.00</text><text x="345.2" y="845.5">0%</text>
<text x="335.23" y="627.09">Yes</text><text x="335.23" y="632.99">0.71</text><text x="335.23" y="638.89">1%</text>
<text x="320.26" y="558.31">Yes</text><text x="320.26" y="564.21">0.62</text><text x="320.26" y="570.11">1%</text>
<text x="306.13" y="531.6">No</text><text x="306.13" y="537.5">0.42</text><text x="306.13" y="543.4">2%</text>
<text x="358.5" y="875.8">Yes</text><text x="358.5" y="881.7">1.00</text><text x="358.5" y="887.6">0%</text>
<text x="332.32" y="420.75">No</text><text x="332.32" y="426.65">0.50</text><text x="332.32" y="432.55">2%</text>
<text x="278.7" y="351.97">No</text><text x="278.7" y="357.87">0.19</text><text x="278.7" y="363.77">31%</text>
<text x="203.47" y="325.26">No</text><text x="203.47" y="331.16">0.15</text><text x="203.47" y="337.06">43%</text>
<text x="371.8" y="833.7">No</text><text x="371.8" y="839.6">0.00</text><text x="371.8" y="845.5">2%</text>
<text x="385.1" y="875.8">No</text><text x="385.1" y="881.7">0.00</text><text x="385.1" y="887.6">0%</text>
<text x="398.4" y="833.7">No</text><text x="398.4" y="839.6">0.20</text><text x="398.4" y="845.5">1%</text>
<text x="411.7" y="875.8">Yes</text><text x="411.7" y="881.7">1.00</text><text x="411.7" y="887.6">0%</text>
<text x="405.05" y="558.31">No</text><text x="405.05" y="564.21">0.33</text><text x="405.05" y="570.11">1%</text>
<text x="395.08" y="489.53">No</text><text x="395.08" y="495.43">0.22</text><text x="395.08" y="501.33">1%</text>
<text x="383.44" y="462.82">No</text><text x="383.44" y="468.72">0.10</text><text x="383.44" y="474.62">3%</text>
<text x="425" y="833.7">Yes</text><text x="425" y="839.6">1.00</text><text x="425" y="845.5">0%</text>
<text x="404.22" y="394.04">No</text><text x="404.22" y="399.94">0.14</text><text x="404.22" y="405.84">3%</text>
<text x="438.3" y="875.8">No</text><text x="438.3" y="881.7">0.00</text><text x="438.3" y="887.6">1%</text>
<text x="451.6" y="833.7">No</text><text x="451.6" y="839.6">0.00</text><text x="451.6" y="845.5">1%</text>
<text x="464.9" y="875.8">No</text><text x="464.9" y="881.7">0.28</text><text x="464.9" y="887.6">3%</text>
<text x="478.2" y="833.7">No</text><text x="478.2" y="839.6">0.35</text><text x="478.2" y="845.5">3%</text>
<text x="491.5" y="875.8">Yes</text><text x="491.5" y="881.7">0.67</text><text x="491.5" y="887.6">2%</text>
<text x="484.85" y="695.87">No</text><text x="484.85" y="701.77">0.47</text><text x="484.85" y="707.67">4%</text>
<text x="474.88" y="669.16">No</text><text x="474.88" y="675.06">0.39</text><text x="474.88" y="680.96">8%</text>
<text x="504.8" y="833.7">Yes</text><text x="504.8" y="839.6">1.00</text><text x="504.8" y="845.5">0%</text>
<text x="489.84" y="558.31">No</text><text x="489.84" y="564.21">0.41</text><text x="489.84" y="570.11">8%</text>
<text x="470.72" y="489.53">No</text><text x="470.72" y="495.43">0.38</text><text x="470.72" y="501.33">9%</text>
<text x="454.51" y="462.82">No</text><text x="454.51" y="468.72">0.34</text><text x="454.51" y="474.62">10%</text>
<text x="518.1" y="875.8">No</text><text x="518.1" y="881.7">0.00</text><text x="518.1" y="887.6">1%</text>
<text x="531.4" y="833.7">Yes</text><text x="531.4" y="839.6">1.00</text><text x="531.4" y="845.5">0%</text>
<text x="524.75" y="531.6">No</text><text x="524.75" y="537.5">0.20</text><text x="524.75" y="543.4">1%</text>
<text x="544.7" y="875.8">No</text><text x="544.7" y="881.7">0.00</text><text x="544.7" y="887.6">0%</text>
<text x="558" y="833.7">No</text><text x="558" y="839.6">0.00</text><text x="558" y="845.5">0%</text>
<text x="571.3" y="875.8">Yes</text><text x="571.3" y="881.7">1.00</text><text x="571.3" y="887.6">0%</text>
<text x="564.65" y="737.94">No</text><text x="564.65" y="743.84">0.50</text><text x="564.65" y="749.74">0%</text>
<text x="584.6" y="833.7">Yes</text><text x="584.6" y="839.6">1.00</text><text x="584.6" y="845.5">0%</text>
<text x="574.62" y="627.09">Yes</text><text x="574.62" y="632.99">0.80</text><text x="574.62" y="638.89">1%</text>
<text x="559.66" y="600.38">Yes</text><text x="559.66" y="606.28">0.67</text><text x="559.66" y="612.18">1%</text>
<text x="597.9" y="875.8">Yes</text><text x="597.9" y="881.7">1.00</text><text x="597.9" y="887.6">1%</text>
<text x="578.78" y="489.53">Yes</text><text x="578.78" y="495.43">0.80</text><text x="578.78" y="501.33">1%</text>
<text x="551.77" y="420.75">Yes</text><text x="551.77" y="426.65">0.60</text><text x="551.77" y="432.55">2%</text>
<text x="503.14" y="351.97">No</text><text x="503.14" y="357.87">0.38</text><text x="503.14" y="363.77">12%</text>
<text x="453.68" y="283.19">No</text><text x="453.68" y="289.09">0.33</text><text x="453.68" y="294.99">15%</text>
<text x="328.58" y="256.48">No</text><text x="328.58" y="262.38">0.20</text><text x="328.58" y="268.28">58%</text>
<text x="611.2" y="833.7">No</text><text x="611.2" y="839.6">0.00</text><text x="611.2" y="845.5">1%</text>
<text x="624.5" y="875.8">No</text><text x="624.5" y="881.7">0.00</text><text x="624.5" y="887.6">0%</text>
<text x="637.8" y="833.7">Yes</text><text x="637.8" y="839.6">1.00</text><text x="637.8" y="845.5">0%</text>
<text x="631.15" y="351.97">No</text><text x="631.15" y="357.87">0.50</text><text x="631.15" y="363.77">0%</text>
<text x="621.18" y="325.26">No</text><text x="621.18" y="331.16">0.09</text><text x="621.18" y="337.06">2%</text>
<text x="651.1" y="875.8">No</text><text x="651.1" y="881.7">0.00</text><text x="651.1" y="887.6">1%</text>
<text x="664.4" y="833.7">No</text><text x="664.4" y="839.6">0.00</text><text x="664.4" y="845.5">0%</text>
<text x="677.7" y="875.8">Yes</text><text x="677.7" y="881.7">1.00</text><text x="677.7" y="887.6">0%</text>
<text x="671.05" y="489.53">Yes</text><text x="671.05" y="495.43">0.67</text><text x="671.05" y="501.33">0%</text>
<text x="661.08" y="462.82">No</text><text x="661.08" y="468.72">0.29</text><text x="661.08" y="474.62">1%</text>
<text x="691" y="833.7">Yes</text><text x="691" y="839.6">1.00</text><text x="691" y="845.5">1%</text>
<text x="676.04" y="394.04">Yes</text><text x="676.04" y="399.94">0.58</text><text x="676.04" y="405.84">2%</text>
<text x="704.3" y="875.8">Yes</text><text x="704.3" y="881.7">1.00</text><text x="704.3" y="887.6">2%</text>
<text x="690.17" y="283.19">Yes</text><text x="690.17" y="289.09">0.78</text><text x="690.17" y="294.99">3%</text>
<text x="655.67" y="214.41">Yes</text><text x="655.67" y="220.31">0.56</text><text x="655.67" y="226.21">5%</text>
<text x="492.12" y="187.7">No</text><text x="492.12" y="193.6">0.23</text><text x="492.12" y="199.5">63%</text>
<text x="717.6" y="833.7">No</text><text x="717.6" y="839.6">0.00</text><text x="717.6" y="845.5">1%</text>
<text x="730.9" y="875.8">No</text><text x="730.9" y="881.7">0.00</text><text x="730.9" y="887.6">0%</text>
<text x="744.2" y="833.7">Yes</text><text x="744.2" y="839.6">1.00</text><text x="744.2" y="845.5">0%</text>
<text x="737.55" y="489.53">No</text><text x="737.55" y="495.43">0.25</text><text x="737.55" y="501.33">1%</text>
<text x="727.58" y="462.82">No</text><text x="727.58" y="468.72">0.08</text><text x="727.58" y="474.62">2%</text>
<text x="757.5" y="875.8">No</text><text x="757.5" y="881.7">0.00</text><text x="757.5" y="887.6">0%</text>
<text x="770.8" y="833.7">Yes</text><text x="770.8" y="839.6">1.00</text><text x="770.8" y="845.5">0%</text>
<text x="764.15" y="420.75">No</text><text x="764.15" y="426.65">0.50</text><text x="764.15" y="432.55">0%</text>
<text x="745.86" y="394.04">No</text><text x="745.86" y="399.94">0.14</text><text x="745.86" y="405.84">2%</text>
<text x="784.1" y="875.8">No</text><text x="784.1" y="881.7">0.00</text><text x="784.1" y="887.6">0%</text>
<text x="797.4" y="833.7">No</text><text x="797.4" y="839.6">0.00</text><text x="797.4" y="845.5">1%</text>
<text x="810.7" y="875.8">No</text><text x="810.7" y="881.7">0.42</text><text x="810.7" y="887.6">7%</text>
<text x="824" y="833.7">No</text><text x="824" y="839.6">0.00</text><text x="824" y="845.5">0%</text>
<text x="837.3" y="875.8">Yes</text><text x="837.3" y="881.7">0.69</text><text x="837.3" y="887.6">2%</text>
<text x="830.65" y="695.87">Yes</text><text x="830.65" y="701.77">0.65</text><text x="830.65" y="707.67">2%</text>
<text x="820.68" y="627.09">No</text><text x="820.68" y="632.99">0.48</text><text x="820.68" y="638.89">9%</text>
<text x="809.04" y="600.38">No</text><text x="809.04" y="606.28">0.45</text><text x="809.04" y="612.18">9%</text>
<text x="850.6" y="833.7">Yes</text><text x="850.6" y="839.6">1.00</text><text x="850.6" y="845.5">0%</text>
<text x="829.82" y="489.53">No</text><text x="829.82" y="495.43">0.46</text><text x="829.82" y="501.33">10%</text>
<text x="806.96" y="462.82">No</text><text x="806.96" y="468.72">0.45</text><text x="806.96" y="474.62">10%</text>
<text x="863.9" y="875.8">Yes</text><text x="863.9" y="881.7">1.00</text><text x="863.9" y="887.6">0%</text>
<text x="835.43" y="351.97">No</text><text x="835.43" y="357.87">0.46</text><text x="835.43" y="363.77">10%</text>
<text x="790.65" y="325.26">No</text><text x="790.65" y="331.16">0.41</text><text x="790.65" y="337.06">12%</text>
<text x="877.2" y="833.7">No</text><text x="877.2" y="839.6">0.00</text><text x="877.2" y="845.5">0%</text>
<text x="890.5" y="875.8">No</text><text x="890.5" y="881.7">0.00</text><text x="890.5" y="887.6">0%</text>
<text x="903.8" y="833.7">Yes</text><text x="903.8" y="839.6">1.00</text><text x="903.8" y="845.5">0%</text>
<text x="897.15" y="489.53">No</text><text x="897.15" y="495.43">0.50</text><text x="897.15" y="501.33">0%</text>
<text x="887.18" y="462.82">No</text><text x="887.18" y="468.72">0.25</text><text x="887.18" y="474.62">1%</text>
<text x="917.1" y="875.8">Yes</text><text x="917.1" y="881.7">0.89</text><text x="917.1" y="887.6">1%</text>
<text x="902.14" y="394.04">Yes</text><text x="902.14" y="399.94">0.69</text><text x="902.14" y="405.84">2%</text>
<text x="930.4" y="833.7">Yes</text><text x="930.4" y="839.6">1.00</text><text x="930.4" y="845.5">1%</text>
<text x="916.27" y="283.19">Yes</text><text x="916.27" y="289.09">0.81</text><text x="916.27" y="294.99">3%</text>
<text x="853.46" y="256.48">No</text><text x="853.46" y="262.38">0.49</text><text x="853.46" y="268.28">15%</text>
<text x="943.7" y="875.8">No</text><text x="943.7" y="881.7">0.00</text><text x="943.7" y="887.6">0%</text>
<text x="957" y="833.7">No</text><text x="957" y="839.6">0.00</text><text x="957" y="845.5">0%</text>
<text x="970.3" y="875.8">Yes</text><text x="970.3" y="881.7">1.00</text><text x="970.3" y="887.6">0%</text>
<text x="963.65" y="600.38">No</text><text x="963.65" y="606.28">0.33</text><text x="963.65" y="612.18">0%</text>
<text x="983.6" y="833.7">No</text><text x="983.6" y="839.6">0.00</text><text x="983.6" y="845.5">0%</text>
<text x="996.9" y="875.8">No</text><text x="996.9" y="881.7">0.00</text><text x="996.9" y="887.6">0%</text>
<text x="1010.2" y="833.7">Yes</text><text x="1010.2" y="839.6">1.00</text><text x="1010.2" y="845.5">0%</text>
<text x="1003.55" y="695.87">Yes</text><text x="1003.55" y="701.77">0.67</text><text x="1003.55" y="707.67">0%</text>
<text x="993.58" y="669.16">No</text><text x="993.58" y="675.06">0.50</text><text x="993.58" y="680.96">1%</text>
<text x="1023.5" y="875.8">Yes</text><text x="1023.5" y="881.7">1.00</text><text x="1023.5" y="887.6">1%</text>
<text x="1008.54" y="558.31">Yes</text><text x="1008.54" y="564.21">0.75</text><text x="1008.54" y="570.11">1%</text>
<text x="986.09" y="531.6">Yes</text><text x="986.09" y="537.5">0.64</text><text x="986.09" y="543.4">2%</text>
<text x="1036.8" y="833.7">No</text><text x="1036.8" y="839.6">0.00</text><text x="1036.8" y="845.5">0%</text>
<text x="1050.1" y="875.8">Yes</text><text x="1050.1" y="881.7">0.83</text><text x="1050.1" y="887.6">1%</text>
<text x="1043.45" y="669.16">Yes</text><text x="1043.45" y="675.06">0.71</text><text x="1043.45" y="680.96">1%</text>
<text x="1063.4" y="833.7">Yes</text><text x="1063.4" y="839.6">1.00</text><text x="1063.4" y="845.5">0%</text>
<text x="1053.43" y="600.38">Yes</text><text x="1053.43" y="606.28">0.78</text><text x="1053.43" y="612.18">1%</text>
<text x="1076.7" y="875.8">Yes</text><text x="1076.7" y="881.7">1.00</text><text x="1076.7" y="887.6">1%</text>
<text x="1065.06" y="489.53">Yes</text><text x="1065.06" y="495.43">0.85</text><text x="1065.06" y="501.33">2%</text>
<text x="1025.58" y="462.82">Yes</text><text x="1025.58" y="468.72">0.75</text><text x="1025.58" y="474.62">3%</text>
<text x="1090" y="833.7">Yes</text><text x="1090" y="839.6">1.00</text><text x="1090" y="845.5">1%</text>
<text x="1057.79" y="351.97">Yes</text><text x="1057.79" y="357.87">0.81</text><text x="1057.79" y="363.77">4%</text>
<text x="1000.74" y="325.26">Yes</text><text x="1000.74" y="331.16">0.79</text><text x="1000.74" y="337.06">5%</text>
<text x="1103.3" y="875.8">No</text><text x="1103.3" y="881.7">0.00</text><text x="1103.3" y="887.6">0%</text>
<text x="1116.6" y="833.7">Yes</text><text x="1116.6" y="839.6">1.00</text><text x="1116.6" y="845.5">0%</text>
<text x="1109.95" y="394.04">Yes</text><text x="1109.95" y="399.94">0.67</text><text x="1109.95" y="405.84">0%</text>
<text x="1129.9" y="875.8">No</text><text x="1129.9" y="881.7">0.00</text><text x="1129.9" y="887.6">0%</text>
<text x="1143.2" y="833.7">Yes</text><text x="1143.2" y="839.6">1.00</text><text x="1143.2" y="845.5">0%</text>
<text x="1136.55" y="462.82">Yes</text><text x="1136.55" y="468.72">0.75</text><text x="1136.55" y="474.62">1%</text>
<text x="1156.5" y="875.8">No</text><text x="1156.5" y="881.7">0.00</text><text x="1156.5" y="887.6">0%</text>
<text x="1169.8" y="833.7">Yes</text><text x="1169.8" y="839.6">0.80</text><text x="1169.8" y="845.5">1%</text>
<text x="1163.15" y="669.16">Yes</text><text x="1163.15" y="675.06">0.67</text><text x="1163.15" y="680.96">1%</text>
<text x="1183.1" y="875.8">Yes</text><text x="1183.1" y="881.7">1.00</text><text x="1183.1" y="887.6">1%</text>
<text x="1173.12" y="600.38">Yes</text><text x="1173.12" y="606.28">0.80</text><text x="1173.12" y="612.18">1%</text>
<text x="1196.4" y="833.7">Yes</text><text x="1196.4" y="839.6">1.00</text><text x="1196.4" y="845.5">1%</text>
<text x="1184.76" y="531.6">Yes</text><text x="1184.76" y="537.5">0.89</text><text x="1184.76" y="543.4">2%</text>
<text x="1209.7" y="875.8">No</text><text x="1209.7" y="881.7">0.00</text><text x="1209.7" y="887.6">0%</text>
<text x="1223" y="833.7">Yes</text><text x="1223" y="839.6">1.00</text><text x="1223" y="845.5">1%</text>
<text x="1216.35" y="669.16">Yes</text><text x="1216.35" y="675.06">0.83</text><text x="1216.35" y="680.96">1%</text>
<text x="1236.3" y="875.8">Yes</text><text x="1236.3" y="881.7">1.00</text><text x="1236.3" y="887.6">2%</text>
<text x="1226.32" y="600.38">Yes</text><text x="1226.32" y="606.28">0.95</text><text x="1226.32" y="612.18">3%</text>
<text x="1249.6" y="833.7">Yes</text><text x="1249.6" y="839.6">1.00</text><text x="1249.6" y="845.5">12%</text>
<text x="1237.96" y="489.53">Yes</text><text x="1237.96" y="495.43">0.99</text><text x="1237.96" y="501.33">14%</text>
<text x="1211.36" y="420.75">Yes</text><text x="1211.36" y="426.65">0.98</text><text x="1211.36" y="432.55">17%</text>
<text x="1173.96" y="351.97">Yes</text><text x="1173.96" y="357.87">0.97</text><text x="1173.96" y="363.77">17%</text>
<text x="1141.95" y="283.19">Yes</text><text x="1141.95" y="289.09">0.96</text><text x="1141.95" y="294.99">18%</text>
<text x="1071.35" y="214.41">Yes</text><text x="1071.35" y="220.31">0.93</text><text x="1071.35" y="226.21">22%</text>
<text x="962.4" y="145.63">Yes</text><text x="962.4" y="151.53">0.75</text><text x="962.4" y="157.43">37%</text>
<text x="727.26" y="76.85">No</text><text x="727.26" y="82.75">0.42</text><text x="727.26" y="88.65">100%</text>
</g>
</svg>
</body></html>
